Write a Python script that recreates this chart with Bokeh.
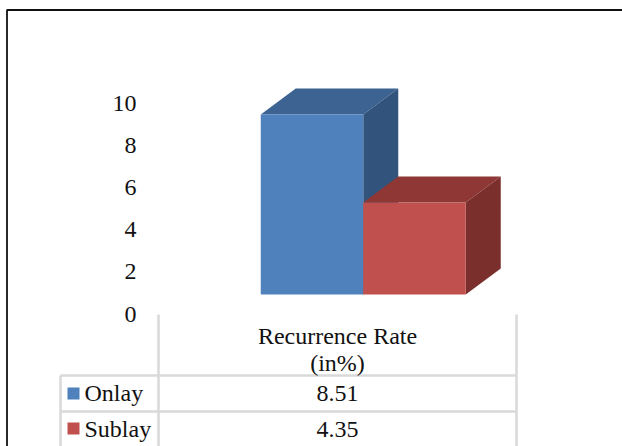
from bokeh.core.properties import value
from bokeh.embed import file_html
from bokeh.models import FixedTicker, LinearAxis, Range1d
from bokeh.plotting import figure
from bokeh.resources import INLINE

# Recurrence rate (in %) by mesh placement
series_names = ["Onlay", "Sublay"]
recurrence_rate = [8.51, 4.35]
rate_labels = ["8.51", "4.35"]
column_title = ["Recurrence Rate", "(in%)"]
y_ticks = [0, 2, 4, 6, 8, 10]

front_colors = ["#4f81bd", "#c0504d"]
top_colors = ["#3c6391", "#8e3735"]
side_colors = ["#32547c", "#7b2f2d"]

W, H = 622, 446
PX_PER_UNIT = 21.15
BAR_W = 102.5
BASE_Y = 294
FIRST_BAR_CENTER = 311.5
DEPTH_X, DEPTH_Y = 35, 26
FONT = "Liberation Serif"
FONT_SIZE = "24px"
INK = "#111111"
GRID = "#d9d9d9"


def ux(px):
    return (px - FIRST_BAR_CENTER) / BAR_W


def uy(px):
    return (BASE_Y - px) / PX_PER_UNIT


p = figure(
    width=W, height=H, output_backend="svg", toolbar_location=None,
    x_range=Range1d(ux(0), ux(W)), y_range=Range1d(uy(H), uy(0)),
    min_border=0, x_axis_type=None, y_axis_type=None, tools="",
)
p.grid.visible = False
p.outline_line_color = None
p.background_fill_color = "white"

# Page frame: left and top rules only
p.line([ux(6.5), ux(6.5), ux(W)], [uy(H), uy(9.5), uy(9.5)], line_color="#111111", line_width=1.8)

# Extruded bars: back walls first, then the front faces
dx = DEPTH_X / BAR_W
dy = DEPTH_Y / PX_PER_UNIT
for i, v in enumerate(recurrence_rate):
    l, r = i - 0.5, i + 0.5
    p.patch([l, r, r + dx, l + dx], [v, v, v + dy, v + dy],
            fill_color=top_colors[i], line_color=None)
    p.patch([r, r + dx, r + dx, r], [0, dy, v + dy, v],
            fill_color=side_colors[i], line_color=None)
    p.quad(left=l, right=r, bottom=0, top=v, fill_color=front_colors[i], line_color=None)

# Value axis sits lower than the bars' floor, as on the chart's back wall
p.extra_y_ranges = {"ticks": Range1d((313.5 - H) / 21.1, 313.5 / 21.1)}
axis = LinearAxis(
    y_range_name="ticks", ticker=FixedTicker(ticks=y_ticks), fixed_location=ux(145),
    axis_line_color=None, major_tick_line_color=None, minor_tick_line_color=None,
    major_label_text_font=FONT, major_label_text_font_size=FONT_SIZE,
    major_label_text_color=INK, major_label_standoff=3,
)
p.add_layout(axis, "left")

# Data table under the bars
col_a, col_b, col_c = 60, 158, 516
row_top, row_1, row_2, row_3 = 314, 375, 411, 446
for x, y0 in [(col_a, row_1), (col_b, row_top), (col_c, row_top)]:
    p.line([ux(x), ux(x)], [uy(y0), uy(row_3)], line_color=GRID, line_width=2.5)
for y in [row_1, row_2]:
    p.line([ux(col_a), ux(col_c)], [uy(y), uy(y)], line_color=GRID, line_width=2.5)

mid = ux((col_b + col_c) / 2)
p.text([mid, mid], [uy(335.5), uy(362)], text=column_title, text_font=value(FONT),
       text_font_size=FONT_SIZE, text_color=INK, text_align="center", text_baseline="middle")
p.text([mid, mid], [uy(393), uy(429)], text=rate_labels, text_font=value(FONT),
       text_font_size=FONT_SIZE, text_color=INK, text_align="center", text_baseline="middle")
p.text([ux(84), ux(84)], [uy(392.5), uy(428.5)], text=series_names, text_font=value(FONT),
       text_font_size=FONT_SIZE, text_color=INK, text_align="left", text_baseline="middle")
p.quad(left=[ux(67), ux(67)], right=[ux(79), ux(79)],
       top=[uy(387), uy(422)], bottom=[uy(399), uy(434)],
       fill_color=front_colors, line_color=None)

open("out.html", "w").write(file_html(p, INLINE))
